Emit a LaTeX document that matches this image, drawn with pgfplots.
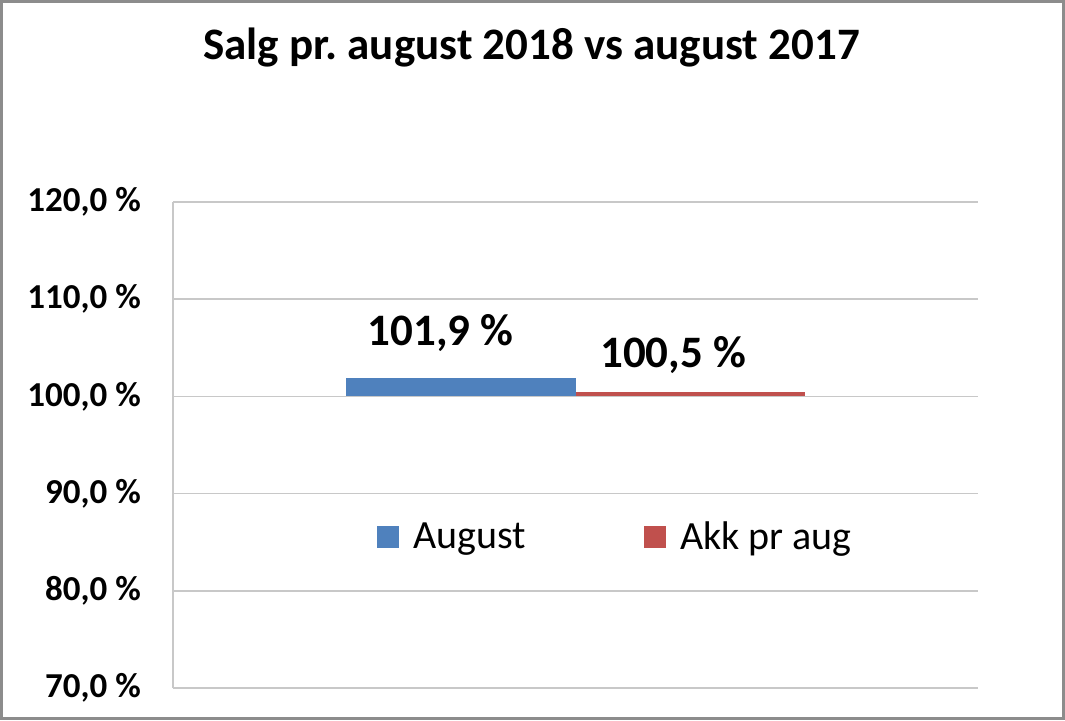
\documentclass[border=0pt]{standalone}
\usepackage{fontspec}
\setmainfont{Carlito}
\usepackage{pgfplots}
\pgfplotsset{compat=1.18}
\definecolor{xblue}{RGB}{79,129,189}
\definecolor{xred}{RGB}{192,80,77}
\definecolor{gridc}{RGB}{200,200,200}
\definecolor{framec}{RGB}{140,140,140}
\begin{document}
\frenchspacing
\begin{tikzpicture}
\draw[framec, line width=3pt] (1.5pt,1.5pt) rectangle (1063.5pt,718.5pt);
\node[anchor=base, inner sep=0pt, font=\bfseries\fontsize{45}{45}\selectfont] at (531.5pt,660pt) {Salg pr.\ august 2018 vs august 2017};
\begin{axis}[
 at={(173pt,32pt)}, anchor=south west,
 scale only axis, width=805pt, height=486pt,
 ybar=0pt, bar width=229.5pt,
 xmin=-0.5, xmax=0.5, xtick=\empty,
 ymin=-30, ymax=20, ytick={-30,-20,...,20},
 yticklabels={{70,0 \%},{80,0 \%},{90,0 \%},{100,0 \%},{110,0 \%},{120,0 \%}},
 y filter/.expression={y-100},
 ymajorgrids, grid style={gridc, line width=1.5pt},
 axis x line=none, axis y line*=left, axis line style={gridc, line width=1.5pt, -},
 major tick length=0pt,
 yticklabel style={font=\bfseries\fontsize{35}{35}\selectfont, anchor=east, inner sep=0pt, xshift=-32pt},
 /pgf/number format/assume math mode=true,
 point meta=rawy,
 nodes near coords={\pgfmathprintnumber[fixed,fixed zerofill,precision=1,use comma]{\pgfplotspointmeta}~\%},
 every node near coord/.append style={font=\bfseries\fontsize{45}{45}\selectfont, text depth=0pt, inner sep=0pt, anchor=south},
 legend columns=2,
 legend style={draw=none, fill=none, at={(0.250,0.311)}, anchor=west, font=\fontsize{40}{40}\selectfont,
   /tikz/every odd column/.append style={column sep=12pt},
   /tikz/every even column/.append style={column sep=116pt}},
 legend image code/.code={\fill[#1] (0pt,-11pt) rectangle (22pt,11pt);},
]
\addplot[fill=xblue, draw=none, every node near coord/.append style={xshift=-20pt, yshift=32pt}] coordinates {(0,101.9)};
\addplot[fill=xred, draw=none, every node near coord/.append style={xshift=-17pt, yshift=23.5pt}] coordinates {(0,100.5)};
\legend{August, Akk pr aug}
\end{axis}
\end{tikzpicture}
\end{document}
